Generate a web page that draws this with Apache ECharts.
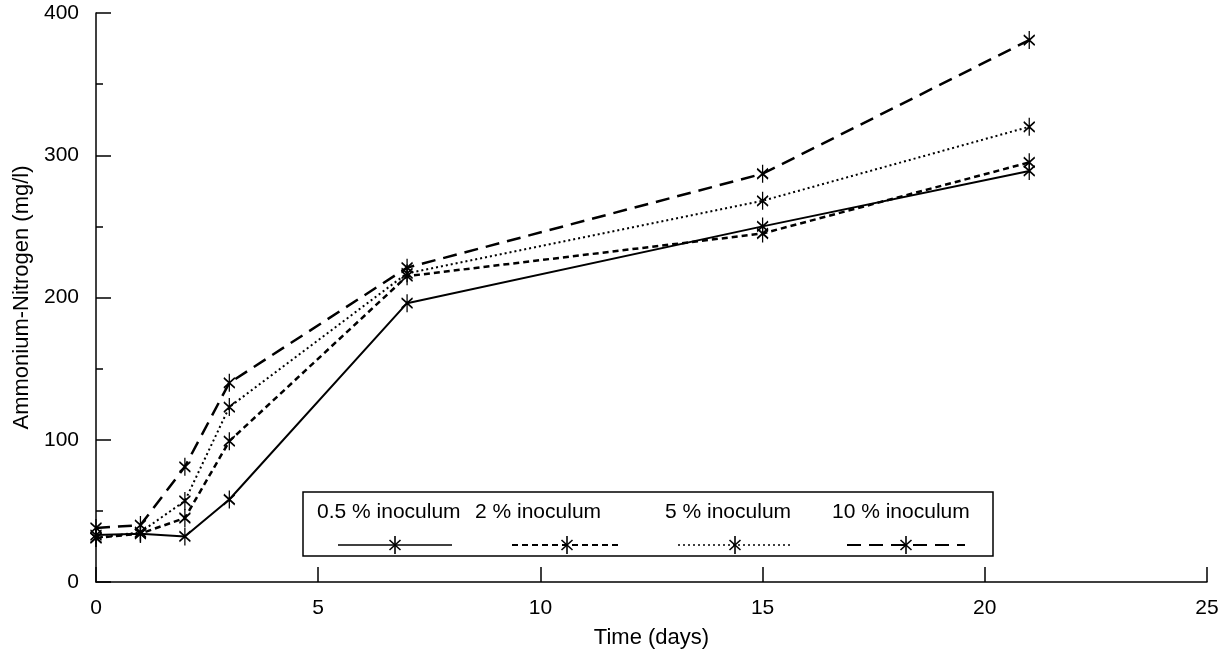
<!DOCTYPE html>
<html>
<head>
<meta charset="utf-8">
<style>
  html, body { margin: 0; padding: 0; background: #fff; }
  #chart { width: 1232px; height: 653px; }
</style>
<script src="https://cdn.jsdelivr.net/npm/echarts@6/dist/echarts.min.js"></script>
</head>
<body>
<div id="chart"></div>
<script>
// 数据：读自原图
const days = [0, 1, 2, 3, 7, 15, 21];
const seriesNames = ['0.5 % inoculum', '2 % inoculum', '5 % inoculum', '10 % inoculum'];
const inoc05 = [33, 34, 32, 58, 196, 250, 289];
const inoc2 = [31, 34, 45, 99, 215, 245, 295];
const inoc5 = [31, 35, 57, 123, 217, 268, 320];
const inoc10 = [38, 40, 81, 140, 221, 287, 381];
const xTicks = [0, 5, 10, 15, 20, 25];
const yTicks = [0, 100, 200, 300, 400];

const FONT = 'Liberation Sans';
const star = 'path://M0,-9L0,9M-5.5,-5L5.5,5M-5.5,5L5.5,-5';
const dashes = ['solid', [6, 4], [2, 3], [14, 8]];
const widths = [2, 2.5, 2, 2.5];
const allValues = [inoc05, inoc2, inoc5, inoc10];

function makeSeries(i) {
  return {
    name: seriesNames[i],
    type: 'line',
    data: days.map((d, k) => [d, allValues[i][k]]),
    symbol: star,
    symbolSize: [11, 18],
    showAllSymbol: true,
    lineStyle: { color: '#000', width: widths[i], type: dashes[i] },
    itemStyle: { color: '#000', borderColor: '#000', borderWidth: 1.6 },
    z: 3 + i
  };
}

// 自绘图例：文字在上，样线在下
function legendGraphic() {
  const textX = [317, 475, 665, 832];
  const lineX = [[338, 452], [512, 622], [678, 792], [847, 965]];
  const items = [{
    type: 'rect',
    shape: { x: 303, y: 492, width: 690, height: 64 },
    style: { fill: '#fff', stroke: '#000', lineWidth: 1.5 },
    z: 10
  }];
  seriesNames.forEach((name, i) => {
    items.push({
      type: 'text', x: textX[i], y: 512, z: 11,
      style: { text: name, font: '21px "' + FONT + '"', fill: '#000', verticalAlign: 'middle' }
    });
    items.push({
      type: 'line', z: 11,
      shape: { x1: lineX[i][0], y1: 545, x2: lineX[i][1], y2: 545 },
      style: { stroke: '#000', lineWidth: widths[i] - 0.5, lineDash: dashes[i] === 'solid' ? null : dashes[i] }
    });
    const cx = (lineX[i][0] + lineX[i][1]) / 2;
    const arms = [[0, -9, 0, 9], [-5.5, -5, 5.5, 5], [-5.5, 5, 5.5, -5]];
    arms.forEach(a => {
      items.push({
        type: 'line', z: 12,
        shape: { x1: cx + a[0], y1: 545 + a[1], x2: cx + a[2], y2: 545 + a[3] },
        style: { stroke: '#000', lineWidth: 1.6 }
      });
    });
  });
  return items;
}

const chart = echarts.init(document.getElementById('chart'));
chart.setOption({
  backgroundColor: '#fff',
  animation: false,
  grid: { left: 96, right: 25, top: 13, bottom: 71, outerBoundsMode: 'none' },
  xAxis: {
    type: 'value',
    min: xTicks[0],
    max: xTicks[xTicks.length - 1],
    interval: 5,
    name: 'Time (days)',
    nameLocation: 'middle',
    nameGap: 45,
    nameTextStyle: { fontFamily: FONT, fontSize: 22, color: '#000' },
    axisLine: { lineStyle: { color: '#000', width: 1.5 } },
    axisTick: { inside: true, length: 15, lineStyle: { color: '#000', width: 1.5 } },
    axisLabel: { fontFamily: FONT, fontSize: 21, color: '#000', margin: 16 },
    splitLine: { show: false }
  },
  yAxis: {
    type: 'value',
    min: yTicks[0],
    max: yTicks[yTicks.length - 1],
    interval: 100,
    name: 'Ammonium-Nitrogen (mg/l)',
    nameLocation: 'middle',
    nameGap: 62,
    nameTextStyle: { fontFamily: FONT, fontSize: 22, color: '#000' },
    axisLine: { show: true, lineStyle: { color: '#000', width: 1.5 } },
    axisTick: { show: true, inside: true, length: 15, lineStyle: { color: '#000', width: 1.5 } },
    minorTick: { show: true, splitNumber: 2, length: 7, lineStyle: { color: '#000', width: 1.5 } },
    axisLabel: { fontFamily: FONT, fontSize: 21, color: '#000', margin: 17 },
    splitLine: { show: false }
  },
  series: [0, 1, 2, 3].map(makeSeries),
  graphic: legendGraphic()
});
</script>
</body>
</html>
